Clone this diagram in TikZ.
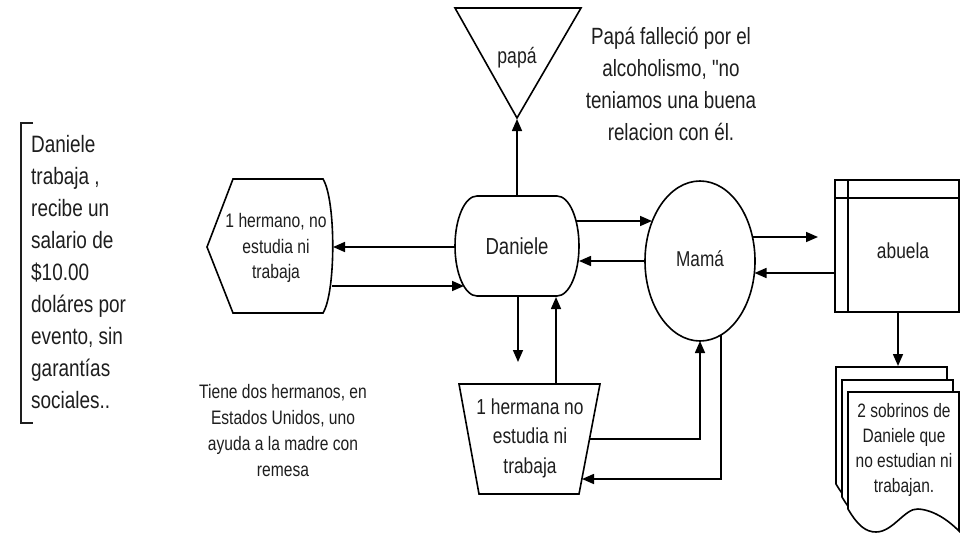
\documentclass[tikz,border=0pt]{standalone}
\usepackage{fontspec}
\setmainfont{Liberation Sans}[FakeStretch=0.8, Ligatures=TeXOff]
\usetikzlibrary{arrows.meta}
\definecolor{ink}{HTML}{1E1E1E}
\tikzset{
  shapeline/.style={draw=black, line width=1.6pt, fill=white, line join=miter},
  conn/.style={draw=black, line width=1.6pt, -{Triangle[length=12pt,width=10pt]}},
  lbl/.style={inner sep=0pt, text=ink, align=center},
}
\newcommand{\fs}[2]{\fontsize{#1}{#2}\selectfont}
\begin{document}
\begin{tikzpicture}[x=1pt,y=-1pt]
\useasboundingbox[fill=white] (0,0) rectangle (963,535);

% papa triangle
\draw[shapeline] (455,8) -- (581,8) -- (517,118) -- cycle;
\node[lbl, font=\fs{22}{26}] (papa) at (517,58) {papá};
\coordinate (papaapex) at (517,119);

% papa note
\node[lbl, font=\fs{23.5}{32}] (papanote) at (671,84) {Papá falleció por el\\alcoholismo, "no\\teniamos una buena\\relacion con él.};

% Daniele
\draw[shapeline] (477,196) -- (557,196)
  .. controls (569.15,196) and (579,218.4) .. (579,246)
  .. controls (579,273.6) and (569.15,296) .. (557,296)
  -- (477,296)
  .. controls (464.85,296) and (455,273.6) .. (455,246)
  .. controls (455,218.4) and (464.85,196) .. (477,196) -- cycle;
\node[lbl, font=\fs{23.2}{28}] (daniele) at (517,246) {Daniele};
\coordinate (danT) at (517,196);
\coordinate (danB) at (518,296);
\coordinate (danBR) at (556,297);
\coordinate (danL1) at (455,247);
\coordinate (danL2) at (464,286);
\coordinate (danR1) at (576,221);
\coordinate (danR2) at (579,261);

% hermano (display shape)
\draw[shapeline] (207,247) -- (233,179) -- (323,179) .. controls (336,200) and (336,292) .. (323,313) -- (233,313) -- cycle;
\node[lbl, font=\fs{19.6}{25.5}] (hermano) at (276,248) {1 hermano, no\\estudia ni\\trabaja};
\coordinate (herR1) at (333,247);
\coordinate (herR2) at (332,286);

% hermana (trapezoid)
\draw[shapeline] (459,384) -- (600,384) -- (579,494) -- (479,494) -- cycle;
\node[lbl, font=\fs{21.7}{29.5}] (hermana) at (530,438) {1 hermana no\\estudia ni\\trabaja};
\coordinate (hnaT) at (556,384);
\coordinate (hnaR1) at (589.5,439);
\coordinate (hnaR2) at (582,479);
\coordinate (danDown) at (518,362);

% Mama ellipse
\draw[shapeline] (700,261) ellipse[x radius=55, y radius=80];
\node[lbl, font=\fs{21.5}{26}] (mama) at (700,259) {Mamá};
\coordinate (mamL1) at (652,221);
\coordinate (mamL2) at (645,261);
\coordinate (mamR1) at (752.5,237);
\coordinate (mamR2) at (754.5,273);
\coordinate (mamB1) at (700,341);
\coordinate (mamB2) at (721,335);

% abuela (internal storage)
\draw[shapeline] (835,180) rectangle (959,312);
\draw[line width=1.6pt] (848,180) -- (848,312);
\draw[line width=1.6pt] (835,198) -- (959,198);
\node[lbl, font=\fs{21.7}{26}] (abuela) at (903,251) {abuela};
\coordinate (abuL) at (835,273);
\coordinate (abuB) at (898,312);
\coordinate (abuTip) at (818,237);
\coordinate (sobT) at (898,366);

% sobrinos (multi-document)
\foreach \dx/\dy in {-12/-25,-6/-12,0/0}{
  \draw[shapeline, shift={(\dx,\dy)}] (848,392) -- (959,392) -- (959,531)
    .. controls (950,522) and (935,510) .. (918,509)
    .. controls (905,508) and (893,532) .. (876,532)
    .. controls (866,532) and (858,526) .. (848,509) -- cycle;
}
\node[lbl, font=\fs{19.4}{25}] (sobrinos) at (904,450) {2 sobrinos de\\Daniele que\\no estudian ni\\trabajan.};

% left bracket note
\draw[line width=1.4pt, draw=ink] (33,123) -- (21,123) -- (21,423) -- (33,423);
\node[lbl, anchor=west, align=left, font=\fs{23.7}{32}] (nota) at (31,272) {Daniele\\trabaja ,\\recibe un\\salario de\\\$10.00\\doláres por\\evento, sin\\garantías\\sociales..};

% hermanos note
\node[lbl, font=\fs{19.5}{26}] (tiene) at (283,431) {Tiene dos hermanos, en\\Estados Unidos, uno\\ayuda a la madre con\\remesa};

% connectors
\draw[conn] (danT) -- (papaapex);
\draw[conn] (danL1) -- (herR1);
\draw[conn] (herR2) -- (danL2);
\draw[conn] (danR1) -- (mamL1);
\draw[conn] (mamL2) -- (danR2);
\draw[conn] (mamR1) -- (abuTip);
\draw[conn] (abuL) -- (mamR2);
\draw[conn] (abuB) -- (sobT);
\draw[conn] (danB) -- (danDown);
\draw[conn] (hnaT) -- (danBR);
\draw[conn] (hnaR1) -| (mamB1);
\draw[conn] (mamB2) |- (hnaR2);
\end{tikzpicture}
\end{document}
